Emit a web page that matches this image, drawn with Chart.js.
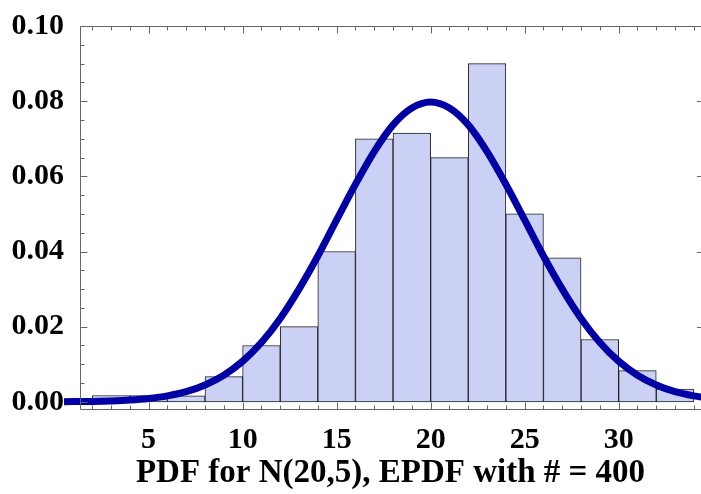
<!DOCTYPE html>
<html>
<head>
<meta charset="utf-8">
<script src="https://cdn.jsdelivr.net/npm/chart.js@4/dist/chart.umd.min.js"></script>
<style>
  html, body { margin: 0; padding: 0; background: #fff; }
  #wrap { width: 701px; height: 494px; }
</style>
</head>
<body>
<div id="wrap"><canvas id="chart"></canvas></div>
<script>
// histogram bins (centres, width 2) and their density
var binCenters = [3, 5, 7, 9, 11, 13, 15, 17, 19, 21, 23, 25, 27, 29, 31, 33]
var binDensity = [0.0017, 0.0017, 0.0016, 0.0067, 0.015, 0.02, 0.04, 0.07, 0.0715, 0.065, 0.09, 0.05, 0.0383, 0.0166, 0.0083, 0.0034]

// PDF curve
var curveX = [0.5, 2, 3, 4, 5, 6, 7, 8, 9, 10, 11, 12, 13, 14, 15, 16, 17, 18, 19, 20,
  21, 22, 23, 24, 25, 26, 27, 28, 29, 30, 31, 32, 33, 34, 35]
var curveY = [0.00004, 0.00012, 0.00025, 0.00048, 0.00089, 0.00158, 0.0027, 0.0045, 0.0071, 0.0108,
  0.0158, 0.0222, 0.03, 0.0388, 0.0484, 0.0579, 0.0666, 0.0737, 0.0782, 0.0798,
  0.0782, 0.0737, 0.0666, 0.0579, 0.0484, 0.0388, 0.03, 0.0222, 0.0158, 0.0108,
  0.0071, 0.0045, 0.0027, 0.0016, 0.0009]

var xTicks = [5, 10, 15, 20, 25, 30]
var yTicks = [0, 0.02, 0.04, 0.06, 0.08, 0.1]
var xTitle = "PDF for N(20,5), EPDF with # = 400"

var serif = "'Liberation Serif', 'DejaVu Serif', serif"

// frame with inward ticks, like the original plot
var framePlugin = {
  id: "frame",
  afterDatasetsDraw: function (chart) {
    var ctx = chart.ctx
    var a = chart.chartArea
    var xs = chart.scales.x
    var ys = chart.scales.y
    var L = a.left + 0.5, T = a.top + 0.5, B = a.bottom + 0.5
    ctx.save()
    ctx.strokeStyle = "#666"
    ctx.lineWidth = 1
    ctx.beginPath()
    ctx.moveTo(a.right, T); ctx.lineTo(L, T); ctx.lineTo(L, B); ctx.lineTo(a.right, B)
    ctx.stroke()
    ctx.beginPath()
    for (var v = 2; v <= 34; v++) {
      var px = Math.round(xs.getPixelForValue(v)) + 0.5
      var len = v % 5 === 0 ? 7 : 4
      ctx.moveTo(px, B); ctx.lineTo(px, B - len)
      ctx.moveTo(px, T); ctx.lineTo(px, T + len)
    }
    for (var k = 0; k <= 20; k++) {
      var yv = k * 0.005
      var py = Math.round(ys.getPixelForValue(yv)) + 0.5
      var l = k % 4 === 0 ? 7 : 4
      ctx.moveTo(L, py); ctx.lineTo(L + l, py)
      if (k % 4 === 0 && k > 0 && k < 20) { ctx.moveTo(a.right, py); ctx.lineTo(a.right - 4, py) }
    }
    ctx.stroke()
    ctx.restore()
  }
}

new Chart(document.getElementById("chart"), {
  data: {
    datasets: [
      {
        type: "line",
        order: 0,
        data: curveX.map(function (x, i) { return { x: x, y: curveY[i] } }),
        borderColor: "rgb(0,0,165)",
        borderWidth: 7,
        pointRadius: 0,
        cubicInterpolationMode: "monotone",
        clip: false,
      },
      {
        type: "bar",
        order: 1,
        data: binCenters.map(function (x, i) { return { x: x, y: binDensity[i] } }),
        backgroundColor: "#cbd1f4",
        borderColor: "#222",
        borderWidth: 1,
        borderSkipped: false,
        barPercentage: 1,
        categoryPercentage: 1,
        grouped: false,
      },
    ],
  },
  options: {
    responsive: true,
    maintainAspectRatio: false,
    animation: false,
    layout: { padding: { top: 23, right: 0, left: 0, bottom: 0 } },
    plugins: { legend: { display: false }, tooltip: { enabled: false } },
    scales: {
      x: {
        type: "linear",
        offset: false,
        min: 1.35,
        max: 34.38,
        grid: { display: false, offset: false },
        border: { display: false },
        afterBuildTicks: function (s) { s.ticks = xTicks.map(function (v) { return { value: v } }) },
        afterFit: function (s) { s.height = 85 },
        ticks: {
          padding: 5,
          color: "#000",
          maxRotation: 0,
          font: { family: serif, size: 30, weight: "bold" },
        },
        title: {
          display: true,
          text: xTitle,
          color: "#000",
          padding: { top: 0, bottom: 1 },
          font: { family: serif, size: 33, weight: "bold" },
        },
      },
      y: {
        min: -0.0019,
        max: 0.1,
        grid: { display: false },
        border: { display: false },
        afterBuildTicks: function (s) { s.ticks = yTicks.map(function (v) { return { value: v } }) },
        afterFit: function (s) { s.width = 80 },
        ticks: {
          padding: 8,
          color: "#000",
          font: { family: serif, size: 30, weight: "bold" },
          callback: function (v) { return v.toFixed(2) },
        },
      },
    },
  },
  plugins: [framePlugin],
})
</script>
</body>
</html>
